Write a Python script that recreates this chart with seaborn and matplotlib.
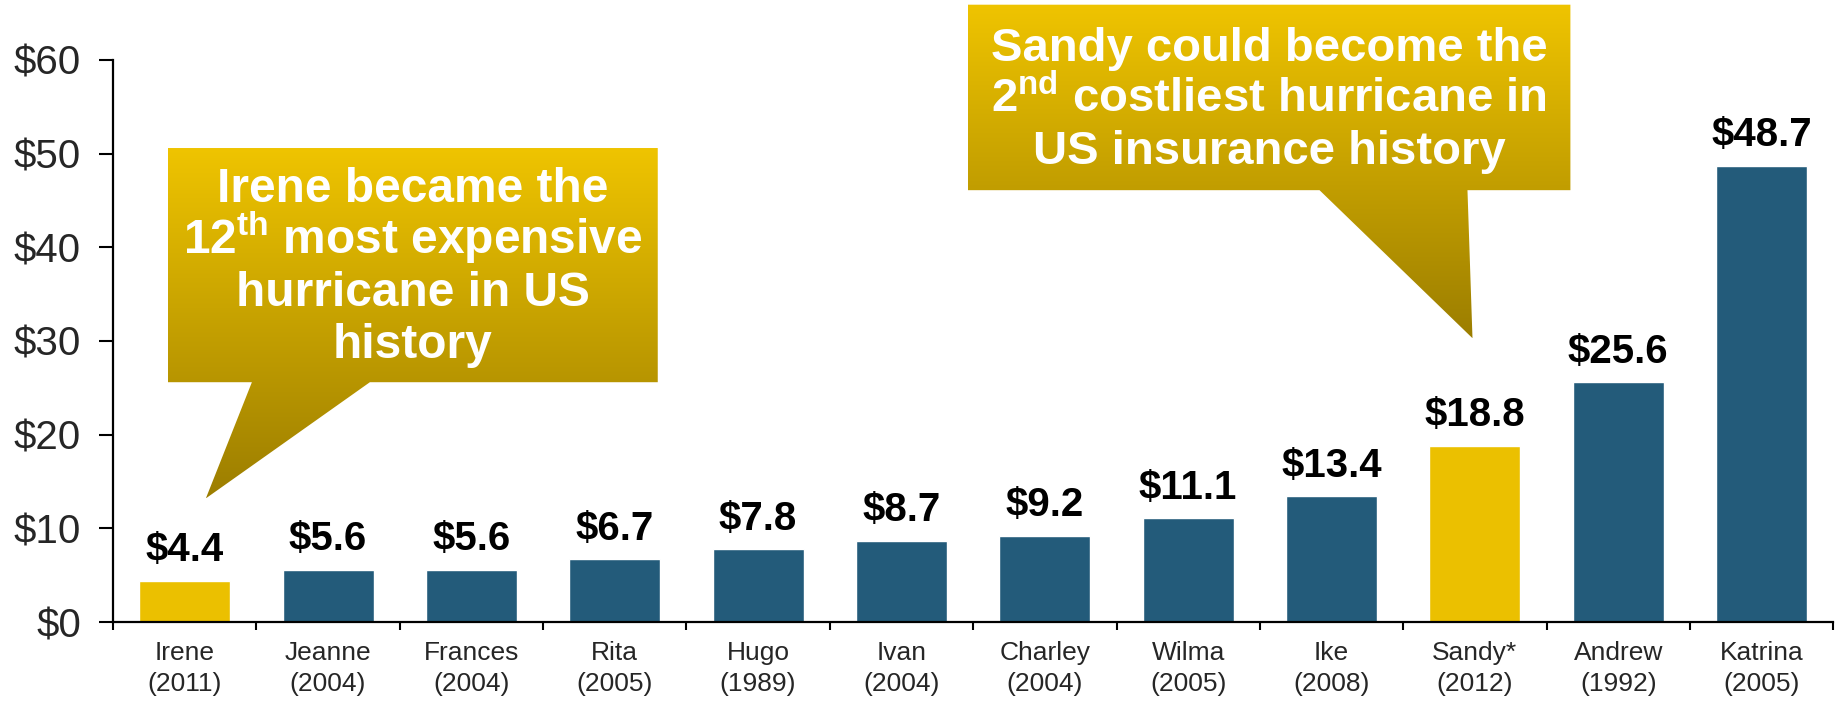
import numpy as np
import pandas as pd
import matplotlib
matplotlib.use("Agg")
import matplotlib.pyplot as plt
import seaborn as sns
from matplotlib import font_manager
from matplotlib.patches import Polygon
from matplotlib.colors import LinearSegmentedColormap

# Insured losses of the costliest US hurricanes ($ billions)
storms = ["Irene", "Jeanne", "Frances", "Rita", "Hugo", "Ivan",
          "Charley", "Wilma", "Ike", "Sandy*", "Andrew", "Katrina"]
years = ["2011", "2004", "2004", "2005", "1989", "2004",
         "2004", "2005", "2008", "2012", "1992", "2005"]
losses = [4.4, 5.6, 5.6, 6.7, 7.8, 8.7, 9.2, 11.1, 13.4, 18.8, 25.6, 48.7]
highlighted = ["Irene", "Sandy*"]
y_ticks = [0, 10, 20, 30, 40, 50, 60]

irene_lines = ["Irene became the", "12$^{\\mathregular{th}}$ most expensive",
               "hurricane in US", "history"]
sandy_lines = ["Sandy could become the",
               "2$^{\\mathregular{nd}}$ costliest hurricane in",
               "US insurance history"]

BLUE = "#235B7A"
GOLD = "#EBC000"
GRAD_TOP = "#EFC400"
GRAD_BOTTOM = "#9C7E00"

sns.set_theme(style="white")
installed = {f.name for f in font_manager.fontManager.ttflist}
HAS_NARROW = "Liberation Sans Narrow" in installed
NARROW = "Liberation Sans Narrow" if HAS_NARROW else "Liberation Sans"
plt.rcParams["font.family"] = ["Liberation Sans", "DejaVu Sans"]

df = pd.DataFrame({
    "label": [f"{s}\n({y})" for s, y in zip(storms, years)],
    "loss": losses,
})
palette = {lab: (GOLD if s in highlighted else BLUE)
           for lab, s in zip(df["label"], storms)}

fig = plt.figure(figsize=(18.37, 7.03), dpi=100)
ax = fig.add_axes([0.0615, 0.1152, 0.9365, 0.7995])

sns.barplot(data=df, x="label", y="loss", hue="label", palette=palette,
            legend=False, width=0.635, saturation=1, ax=ax, zorder=2)

# value labels above bars
for i, v in enumerate(losses):
    ax.annotate(f"${v:.1f}", xy=(i, v), xytext=(0, 14),
                textcoords="offset points", ha="center", va="baseline",
                fontsize=29, fontweight="bold", color="black")


def callout(ax, rect, base, tip, lines, size, family, first_pt, pitch_pt):
    x0, x1, y_bot, y_top = rect
    verts = [(x0, y_top), (x1, y_top), (x1, y_bot), (base[1], y_bot),
             tip, (base[0], y_bot), (x0, y_bot)]
    poly = Polygon(verts, closed=True, facecolor="none", edgecolor="none",
                   transform=ax.transData)
    ax.add_patch(poly)
    poly.set_clip_on(False)
    cmap = LinearSegmentedColormap.from_list("fade", [GRAD_BOTTOM, GRAD_TOP])
    grad = np.linspace(0, 1, 256).reshape(-1, 1)
    im = ax.imshow(grad, cmap=cmap, origin="lower", aspect="auto",
                   extent=(min(x0, tip[0]), max(x1, tip[0]), tip[1], y_top),
                   zorder=3, interpolation="bilinear")
    im.set_clip_path(poly)
    im.set_clip_box(ax.figure.bbox)
    cx = (x0 + x1) / 2
    for k, line in enumerate(lines):
        ax.annotate(line, xy=(cx, y_top),
                    xytext=(0, -(first_pt + k * pitch_pt)),
                    textcoords="offset points", ha="center", va="baseline",
                    color="white", fontsize=size, fontweight="bold",
                    family=family, zorder=4, annotation_clip=False)


callout(ax, rect=(-0.117, 3.30, 25.6, 50.6), base=(0.469, 1.292),
        tip=(0.148, 13.2), lines=irene_lines, size=34.5,
        family="Liberation Sans", first_pt=38.7, pitch_pt=37.4)

callout(ax, rect=(5.461, 9.666, 46.1, 65.9), base=(7.916, 8.948),
        tip=(8.983, 30.3), lines=sandy_lines,
        size=37 if HAS_NARROW else 34, family=NARROW,
        first_pt=40.3, pitch_pt=37.1)

ax.set_xlim(-0.5, len(storms) - 0.5)
ax.set_ylim(0, 60)
ax.set_yticks(y_ticks)
ax.set_yticklabels([f"${t}" for t in y_ticks])
ax.set_xlabel("")
ax.set_ylabel("")

# category labels without marks; boundary ticks between categories
ax.set_xticks(range(len(storms)))
ax.set_xticklabels(df["label"], fontsize=19, family=NARROW, linespacing=1.38)
ax.set_xticks(np.arange(-0.5, len(storms), 1.0), minor=True)
ax.tick_params(axis="x", which="major", length=0, pad=13.5)
ax.tick_params(axis="x", which="minor", length=5.5, width=1.5,
               direction="out", color="black", bottom=True)
ax.tick_params(axis="y", length=10, width=1.5, direction="out",
               color="black", left=True, labelsize=29, pad=13)

sns.despine(ax=ax, top=True, right=True)
for side in ("left", "bottom"):
    ax.spines[side].set_color("black")
    ax.spines[side].set_linewidth(1.6)

fig.savefig("out.png", dpi=100, facecolor="white")
